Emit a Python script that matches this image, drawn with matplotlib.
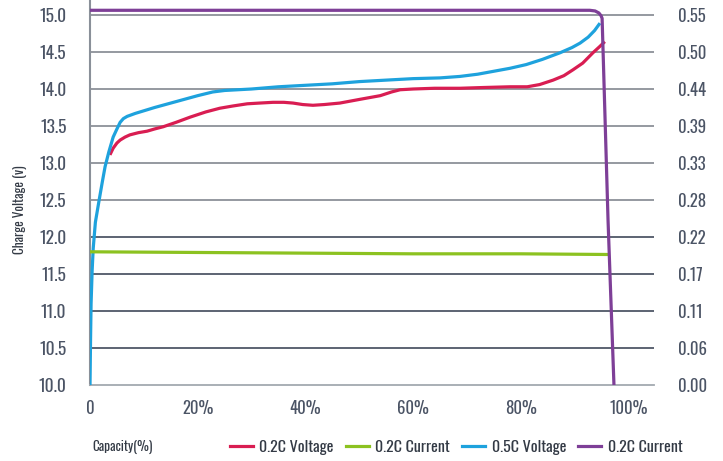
import matplotlib
matplotlib.use("Agg")
import matplotlib.pyplot as plt
from matplotlib.lines import Line2D

plt.rcParams['font.family'] = ['Oswald', 'Barlow Condensed', 'Roboto Condensed', 'DejaVu Sans']

# ---- data ----
blue_cap = [0.0, 0.1, 0.2, 0.4, 0.6, 1.0, 1.7, 2.3, 2.8, 3.5, 4.3, 5.0, 5.6, 6.2, 6.9, 8.4,
            12.0, 16.0, 20.0, 22.8, 25.0, 30.0, 35.0, 40.0, 45.0, 50.0, 55.0, 60.0, 65.0,
            68.7, 72.0, 75.0, 78.0, 81.0, 84.0, 87.3, 89.5, 91.0, 92.5, 93.7, 94.7]
blue_v = [10.00, 10.60, 11.10, 11.55, 11.85, 12.20, 12.50, 12.75, 12.95, 13.15, 13.35, 13.46,
          13.55, 13.60, 13.63, 13.67, 13.75, 13.83, 13.91, 13.96, 13.98, 14.00, 14.03, 14.05,
          14.07, 14.10, 14.12, 14.14, 14.15, 14.17, 14.20, 14.24, 14.28, 14.33, 14.40, 14.49,
          14.56, 14.62, 14.70, 14.79, 14.89]

red_cap = [3.7, 4.3, 5.0, 5.6, 6.5, 7.4, 9.0, 10.6, 12.0, 13.6, 16.0, 18.6, 21.5, 24.1, 26.5,
           29.2, 31.5, 34.0, 36.0, 37.7, 39.5, 41.4, 43.5, 46.4, 50.1, 53.9, 56.0, 57.6, 60.0,
           64.0, 68.7, 73.0, 78.0, 81.2, 83.5, 86.0, 88.0, 89.7, 91.5, 93.4, 94.6, 95.6]
red_v = [13.11, 13.20, 13.27, 13.31, 13.35, 13.38, 13.41, 13.43, 13.46, 13.49, 13.55, 13.62,
         13.69, 13.74, 13.77, 13.80, 13.81, 13.82, 13.82, 13.81, 13.79, 13.78, 13.79, 13.81,
         13.86, 13.91, 13.96, 13.99, 14.00, 14.01, 14.01, 14.02, 14.03, 14.03, 14.06, 14.12,
         14.18, 14.26, 14.35, 14.49, 14.57, 14.64]

green_cap = [0.0, 20.0, 40.0, 60.0, 80.0, 96.2]
green_a = [0.198, 0.197, 0.196, 0.195, 0.195, 0.194]

purple_cap = [0.0, 20.0, 40.0, 60.0, 80.0, 92.8, 93.8, 94.5, 94.9, 95.1, 96.2, 97.3]
purple_a = [0.557, 0.557, 0.557, 0.557, 0.557, 0.557, 0.556, 0.553, 0.549, 0.545, 0.245, 0.0]

v_ticks = [10.0, 10.5, 11.0, 11.5, 12.0, 12.5, 13.0, 13.5, 14.0, 14.5, 15.0]
v_labels = ["10.0", "10.5", "11.0", "11.5", "12.0", "12.5", "13.0", "13.5", "14.0", "14.5", "15.0"]
a_ticks = [0.0, 0.055, 0.11, 0.165, 0.22, 0.275, 0.33, 0.385, 0.44, 0.495, 0.55]
a_labels = ["0.00", "0.06", "0.11", "0.17", "0.22", "0.28", "0.33", "0.39", "0.44", "0.50", "0.55"]
x_ticks = [0, 20, 40, 60, 80, 100]
x_labels = ["0", "20%", "40%", "60%", "80%", "100%"]
series_names = ["0.2C Voltage", "0.2C Current", "0.5C Voltage", "0.2C Current"]

# ---- style ----
RED = "#d91d52"
GREEN = "#8cc220"
BLUE = "#1ea2dd"
PURPLE = "#7e3f97"
TXT = "#4b5465"
TXT2 = "#333a45"

W, H = 723, 461
fig = plt.figure(figsize=(W / 100, H / 100), dpi=100)
ax = fig.add_axes([90 / W, 1 - 385 / H, (654 - 90) / W, 385 / H])
ax2 = ax.twinx()

ytop = 10 + 385 / 74.0
ax.set_ylim(10, ytop)
ax2.set_ylim(0, 0.55 * (ytop - 10) / 5.0)
ax.set_xlim(0, (654 - 90) / 5.385)

# gridlines
for v in v_ticks[1:]:
    col = "#8c9199" if v >= 12.5 else "#4f5767"
    ax.axhline(v, color=col, lw=1.3, zorder=1)

ax.set_yticks(v_ticks)
ax.set_yticklabels(v_labels)
ax2.set_yticks(a_ticks)
ax2.set_yticklabels(a_labels)
ax.set_xticks(x_ticks)
ax.set_xticklabels(x_labels)

ax.tick_params(axis='y', length=0, pad=17, labelsize=12.5, labelcolor=TXT)
ax2.tick_params(axis='y', length=0, pad=17, labelsize=12, labelcolor=TXT)
ax.tick_params(axis='x', length=0, pad=11, labelsize=12, labelcolor=TXT)

for a in (ax, ax2):
    a.spines['top'].set_visible(False)
    a.spines['right'].set_visible(False)
ax2.spines['left'].set_visible(False)
ax2.spines['bottom'].set_visible(False)
ax.spines['left'].set_color("#8a9099")
ax.spines['left'].set_linewidth(1.5)
ax.spines['bottom'].set_color("#a3a9b0")
ax.spines['bottom'].set_linewidth(1.3)

lw = 2.3
ax2.plot(green_cap, green_a, color=GREEN, lw=lw, zorder=3, solid_capstyle='butt')
ax.plot(red_cap, red_v, color=RED, lw=lw, zorder=4, solid_capstyle='butt')
ax.plot(blue_cap, blue_v, color=BLUE, lw=lw, zorder=5, solid_capstyle='butt')
ax2.plot(purple_cap, purple_a, color=PURPLE, lw=lw, zorder=6, solid_capstyle='butt',
         solid_joinstyle='round')

fig.text(20 / W, 1 - 210 / H, "Charge Voltage (v)", rotation=90, ha='center', va='center',
         fontsize=9.5, color=TXT2, fontweight='light')
fig.text(92 / W, 1 - 447 / H, "Capacity(%)", ha='left', va='center', fontsize=9.5,
         color=TXT2, fontweight='light')

handles = [Line2D([], [], color=c, lw=2.3) for c in (RED, GREEN, BLUE, PURPLE)]
fig.legend(handles, series_names, loc='center', bbox_to_anchor=(456 / W, 1 - 447 / H),
           ncol=4, frameon=False, fontsize=11.5, handlelength=1.45, handletextpad=0.4,
           columnspacing=0.75, labelcolor=TXT2, borderpad=0, borderaxespad=0)

fig.savefig("out.png", dpi=100)
